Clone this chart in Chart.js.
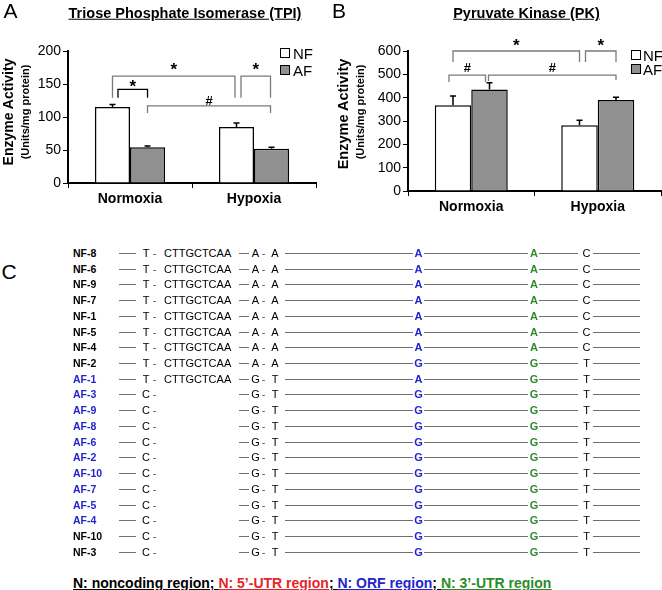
<!DOCTYPE html>
<html>
<head>
<meta charset="utf-8">
<script src="https://cdn.jsdelivr.net/npm/chart.js@4"></script>
<style>
body { margin: 0; background: #fff; font-family: "Liberation Sans", Arial, sans-serif; }
#wrap { position: relative; width: 662px; height: 590px; overflow: hidden; }
.t { position: absolute; white-space: nowrap; line-height: 1; transform: translate(-50%, -50%); }
.l { position: absolute; white-space: nowrap; line-height: 1; transform: translateY(-50%); }
.r { position: absolute; white-space: nowrap; line-height: 1; transform: translate(-50%, -50%) rotate(-90deg); font-weight: bold; }
.ln { position: absolute; height: 1px; background: #6e6e6e; }
.sq { position: absolute; border: 1px solid #000; box-sizing: border-box; }
canvas { position: absolute; top: 0; }
</style>
</head>
<body>
<div id="wrap">
  <canvas id="chartA" width="330" height="225" style="left:0"></canvas>
  <canvas id="chartB" width="332" height="225" style="left:330px"></canvas>
</div>
<script>
// panel A / B data
const groups = ["Normoxia", "Hypoxia"];
const seriesNames = ["NF", "AF"];

const tpiNF = [115, 85];
const tpiNFErr = [4, 6];
const tpiAF = [54, 52];
const tpiAFErr = [2, 2];
const tpiTicks = [0, 50, 100, 150, 200];

const pkNF = [367, 282];
const pkNFErr = [40, 21];
const pkAF = [435, 390];
const pkAFErr = [29, 12];
const pkTicks = [0, 100, 200, 300, 400, 500, 600];

// panel C data
const clones = ["NF-8", "NF-6", "NF-9", "NF-7", "NF-1", "NF-5", "NF-4", "NF-2", "AF-1", "AF-3",
  "AF-9", "AF-8", "AF-6", "AF-2", "AF-10", "AF-7", "AF-5", "AF-4", "NF-10", "NF-3"];
const site1 = ["T", "T", "T", "T", "T", "T", "T", "T", "T", "C", "C", "C", "C", "C", "C", "C", "C", "C", "C", "C"];
const insert = ["CTTGCTCAA", "CTTGCTCAA", "CTTGCTCAA", "CTTGCTCAA", "CTTGCTCAA", "CTTGCTCAA", "CTTGCTCAA",
  "CTTGCTCAA", "CTTGCTCAA", "", "", "", "", "", "", "", "", "", "", ""];
const site2 = ["A", "A", "A", "A", "A", "A", "A", "A", "G", "G", "G", "G", "G", "G", "G", "G", "G", "G", "G", "G"];
const site3 = ["A", "A", "A", "A", "A", "A", "A", "A", "T", "T", "T", "T", "T", "T", "T", "T", "T", "T", "T", "T"];
const orfSite = ["A", "A", "A", "A", "A", "A", "A", "G", "A", "G", "G", "G", "G", "G", "G", "G", "G", "G", "G", "G"];
const utr3Site = ["A", "A", "A", "A", "A", "A", "A", "G", "G", "G", "G", "G", "G", "G", "G", "G", "G", "G", "G", "G"];
const lastSite = ["C", "C", "C", "C", "C", "C", "C", "T", "T", "T", "T", "T", "T", "T", "T", "T", "T", "T", "T", "T"];

const BLUE = "#2424cc", GREEN = "#2a8c2a", RED = "#e4262a", GREY = "#7a7a7a";

// error bars + significance brackets
const marks = {
  id: "marks",
  afterDatasetsDraw(chart, args, opts) {
    const ctx = chart.ctx, y = chart.scales.y;
    ctx.save();
    chart.data.datasets.forEach((ds, di) => {
      chart.getDatasetMeta(di).data.forEach((bar, i) => {
        const top = y.getPixelForValue(ds.data[i] + ds.err[i]);
        ctx.strokeStyle = "#000";
        ctx.lineWidth = 1.5;
        ctx.beginPath();
        ctx.moveTo(bar.x, bar.y);
        ctx.lineTo(bar.x, top);
        ctx.moveTo(bar.x - 3, top);
        ctx.lineTo(bar.x + 3, top);
        ctx.stroke();
      });
    });
    (opts.brackets || []).forEach(b => {
      const xa = chart.getDatasetMeta(b.a[0]).data[b.a[1]].x + (b.da || 0);
      const xb = chart.getDatasetMeta(b.b[0]).data[b.b[1]].x + (b.db || 0);
      const yt = y.getPixelForValue(b.top);
      ctx.strokeStyle = b.color;
      ctx.lineWidth = 1.3;
      ctx.beginPath();
      ctx.moveTo(xa, y.getPixelForValue(b.endA));
      ctx.lineTo(xa, yt);
      ctx.lineTo(xb, yt);
      ctx.lineTo(xb, y.getPixelForValue(b.endB));
      ctx.stroke();
      ctx.fillStyle = "#000";
      ctx.font = b.text == "*" ? 'bold 17px "Liberation Sans"' : 'bold 13px "Liberation Sans"';
      ctx.textAlign = "center";
      ctx.textBaseline = "alphabetic";
      ctx.fillText(b.text, (xa + xb) / 2, yt - b.gap);
    });
    ctx.restore();
  }
};

function barChart(id, nf, nfErr, af, afErr, ticks, lay, brackets) {
  return new Chart(id, {
    type: "bar",
    data: {
      labels: groups,
      datasets: [
        { label: seriesNames[0], data: nf, err: nfErr, backgroundColor: "#ffffff", borderColor: "#000", borderWidth: 1.5 },
        { label: seriesNames[1], data: af, err: afErr, backgroundColor: "#909090", borderColor: "#000", borderWidth: 1.5 }
      ]
    },
    options: {
      responsive: false,
      animation: false,
      devicePixelRatio: 1,
      layout: { padding: { top: 51, right: lay.pr, left: 0, bottom: 0 } },
      datasets: { bar: { categoryPercentage: lay.cp, barPercentage: 1 } },
      plugins: { legend: { display: false }, tooltip: { enabled: false }, marks: { brackets: brackets } },
      scales: {
        x: {
          grid: { display: true, drawOnChartArea: false, drawTicks: true, tickLength: 5, color: "#000" },
          border: { display: true, color: "#000", width: 2 },
          ticks: { color: "#000", padding: 3, font: { family: "Liberation Sans", size: 14, weight: "bold" } },
          afterFit: s => { s.height = lay.xh; }
        },
        y: {
          min: ticks[0],
          max: ticks[ticks.length - 1],
          grid: { display: true, drawOnChartArea: false, drawTicks: true, tickLength: 5, color: "#000" },
          border: { display: true, color: "#000", width: 2 },
          ticks: { stepSize: ticks[1] - ticks[0], color: "#000", padding: 2, font: { family: "Liberation Sans", size: 14 } },
          afterFit: s => { s.width = lay.yw; }
        }
      }
    },
    plugins: [marks]
  });
}

barChart("chartA", tpiNF, tpiNFErr, tpiAF, tpiAFErr, tpiTicks, { pr: 14, xh: 42, yw: 68, cp: 0.565 }, [
  { a: [0, 0], b: [0, 1], db: -1.5, top: 162, endA: 129, endB: 129, color: GREY, text: "*", gap: 1 },
  { a: [0, 0], b: [1, 0], da: 5.5, top: 142, endA: 129, endB: 129, color: "#000", text: "*", gap: -3 },
  { a: [0, 1], b: [1, 1], da: 4.5, db: -1, top: 162, endA: 129, endB: 129, color: GREY, text: "*", gap: 1 },
  { a: [1, 0], b: [1, 1], db: -1, top: 117, endA: 106, endB: 106, color: GREY, text: "#", gap: 1 }
]);

barChart("chartB", pkNF, pkNFErr, pkAF, pkAFErr, pkTicks, { pr: 1, xh: 34, yw: 78, cp: 0.577 }, [
  { a: [0, 0], b: [0, 1], top: 600, endA: 553, endB: 553, color: GREY, text: "*", gap: 0 },
  { a: [0, 1], b: [1, 1], da: 6, top: 600, endA: 553, endB: 553, color: GREY, text: "*", gap: 0 },
  { a: [0, 0], b: [1, 0], da: -4, db: -4, top: 497, endA: 467, endB: 467, color: GREY, text: "#", gap: 3 },
  { a: [1, 0], b: [1, 1], da: -1, top: 497, endA: 471, endB: 476, color: GREY, text: "#", gap: 3 }
]);

// html text
const wrap = document.getElementById("wrap");
function put(cls, txt, x, y, css) {
  const d = document.createElement("div");
  d.className = cls;
  d.textContent = txt;
  d.style.left = x + "px";
  d.style.top = y + "px";
  d.style.cssText += css || "";
  wrap.appendChild(d);
  return d;
}
function line(x1, x2, y) {
  const d = document.createElement("div");
  d.className = "ln";
  d.style.left = x1 + "px";
  d.style.width = (x2 - x1) + "px";
  d.style.top = Math.round(y) + "px";
  wrap.appendChild(d);
}
function square(x, y, fill) {
  const d = document.createElement("div");
  d.className = "sq";
  d.style.cssText += `left:${x}px;top:${y}px;width:10px;height:10px;background:${fill}`;
  wrap.appendChild(d);
}

put("t", "A", 10.5, 9.5, "font-size:21px");
put("t", "B", 339, 9.5, "font-size:21px");
put("t", "C", 9, 270.5, "font-size:21px");
put("t", "Triose Phosphate Isomerase (TPI)", 185, 12.5, "font-size:14.5px;font-weight:bold;text-decoration:underline");
put("t", "Pyruvate Kinase (PK)", 526.5, 13, "font-size:14.5px;font-weight:bold;text-decoration:underline");
put("r", "Enzyme Activity", 8, 112, "font-size:14px");
put("r", "(Units/mg protein)", 25, 112, "font-size:11px");
put("r", "Enzyme Activity", 343, 114, "font-size:14.5px");
put("r", "(Units/mg protein)", 360, 112, "font-size:11px");

square(280, 48, "#fff"); put("l", seriesNames[0], 293, 53, "font-size:15px");
square(280, 65, "#909090"); put("l", seriesNames[1], 293, 70, "font-size:15px");
square(631, 50, "#fff"); put("l", seriesNames[0], 643, 55, "font-size:15px");
square(631, 64, "#909090"); put("l", seriesNames[1], 643, 69, "font-size:15px");

// panel C rows
const base = "font-size:11px;";
clones.forEach((name, i) => {
  const y = 253 + i * 15.72;
  const c = name.startsWith("AF") ? BLUE : "#000";
  put("l", name, 73, y, `font-size:10.5px;font-weight:bold;color:${c}`);
  line(119, 136, y);
  put("t", site1[i], 146, y, base);
  put("t", "-", 154.5, y, base + "color:#555");
  if (insert[i]) put("l", insert[i], 164, y, base);
  line(239, 249, y);
  put("t", site2[i], 255.5, y, base);
  put("t", "-", 263.5, y, base + "color:#555");
  put("t", site3[i], 275, y, base);
  line(285, 413, y);
  put("t", orfSite[i], 418.5, y, base + `font-weight:bold;color:${BLUE}`);
  line(424, 528, y);
  put("t", utr3Site[i], 534, y, base + `font-weight:bold;color:${GREEN}`);
  line(539, 578, y);
  put("t", lastSite[i], 586.5, y, base);
  line(593, 640, y);
});

// region key
const key = put("l", "", 73, 583, "font-size:14px;font-weight:bold;text-decoration:underline");
[["N: noncoding region; ", "#000"], ["N: 5\u2019-UTR region", RED], ["; ", "#000"],
 ["N: ORF region", BLUE], ["; ", "#000"], ["N: 3\u2019-UTR region", GREEN]].forEach(p => {
  const s = document.createElement("span");
  s.textContent = p[0];
  s.style.color = p[1];
  s.style.textDecoration = "underline";
  key.appendChild(s);
});
</script>
</body>
</html>
